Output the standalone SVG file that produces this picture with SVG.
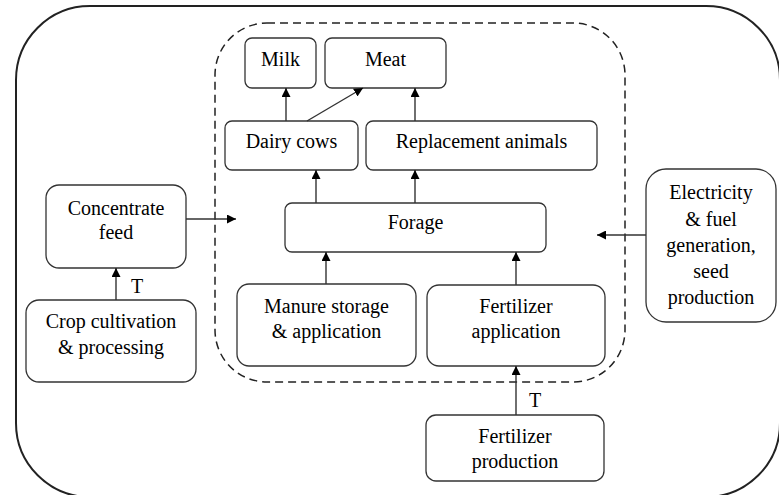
<svg xmlns="http://www.w3.org/2000/svg" width="779" height="495" viewBox="0 0 779 495">
<style>
.box{fill:#fff;stroke:#333;stroke-width:1.3}
.t{font-family:'Liberation Serif','DejaVu Serif',serif;font-size:20px;fill:#000;text-anchor:middle}
.c{stroke:#333;stroke-width:1.4;fill:none;marker-end:url(#ah)}
</style>
<defs>
<marker id="ah" viewBox="0 0 10 10" refX="10" refY="5" markerWidth="9" markerHeight="9" markerUnits="userSpaceOnUse" orient="auto">
<path d="M0,0 L10,5 L0,10 Z" fill="#000"/>
</marker>
</defs>
<rect width="779" height="495" fill="#fff"/>
<rect x="16" y="6" width="764" height="491" rx="74" fill="none" stroke="#222" stroke-width="2"/>
<rect id="farm-boundary" x="215" y="23" width="410" height="359" rx="52" fill="none" stroke="#222" stroke-width="1.5" stroke-dasharray="8,5"/>

<g id="milk"><rect class="box" x="245" y="38" width="71" height="50" rx="7"/><text class="t" x="280.5" y="66">Milk</text></g>
<g id="meat"><rect class="box" x="325" y="38" width="121" height="50" rx="7"/><text class="t" x="385.5" y="66">Meat</text></g>
<g id="dairy-cows"><rect class="box" x="225" y="121" width="133" height="49" rx="7"/><text class="t" x="291.5" y="148">Dairy cows</text></g>
<g id="replacement"><rect class="box" x="366" y="121" width="231" height="49" rx="7"/><text class="t" x="481.5" y="148">Replacement animals</text></g>
<g id="forage"><rect class="box" x="285" y="203" width="261" height="49" rx="7"/><text class="t" x="415.5" y="229">Forage</text></g>
<g id="manure"><rect class="box" x="237" y="284" width="179" height="82" rx="12"/><text class="t" x="326.5" y="313">Manure storage</text><text class="t" x="326.5" y="338">&amp; application</text></g>
<g id="fert-app"><rect class="box" x="427" y="285" width="178" height="81" rx="12"/><text class="t" x="516" y="313">Fertilizer</text><text class="t" x="516" y="338">application</text></g>
<g id="fert-prod"><rect class="box" x="426" y="415" width="178" height="66" rx="10"/><text class="t" x="515" y="443">Fertilizer</text><text class="t" x="515" y="468">production</text></g>
<g id="concentrate"><rect class="box" x="46" y="185" width="140" height="83" rx="13"/><text class="t" x="116" y="215">Concentrate</text><text class="t" x="116" y="239">feed</text></g>
<g id="crop"><rect class="box" x="26" y="300" width="170" height="82" rx="13"/><text class="t" x="111" y="328">Crop cultivation</text><text class="t" x="111" y="354">&amp; processing</text></g>
<g id="electricity"><rect class="box" x="646" y="169" width="130" height="153" rx="20"/><text class="t" x="711" y="199">Electricity</text><text class="t" x="711" y="226">&amp; fuel</text><text class="t" x="711" y="252">generation,</text><text class="t" x="711" y="278">seed</text><text class="t" x="711" y="304">production</text></g>

<g id="connectors">
<line class="c" x1="286" y1="121" x2="286" y2="88"/>
<line class="c" x1="307" y1="121" x2="363" y2="88"/>
<line class="c" x1="415" y1="121" x2="415" y2="88"/>
<line class="c" x1="316" y1="203" x2="316" y2="170"/>
<line class="c" x1="415" y1="203" x2="415" y2="170"/>
<line class="c" x1="326" y1="284" x2="326" y2="252"/>
<line class="c" x1="516" y1="285" x2="516" y2="252"/>
<line class="c" x1="516" y1="415" x2="516" y2="366"/>
<line class="c" x1="116" y1="300" x2="116" y2="268"/>
<line class="c" x1="186" y1="219" x2="236" y2="219"/>
<line class="c" x1="646" y1="235" x2="597" y2="235"/>
<text class="t" x="137" y="293">T</text>
<text class="t" x="535" y="407">T</text>
</g>
</svg>
